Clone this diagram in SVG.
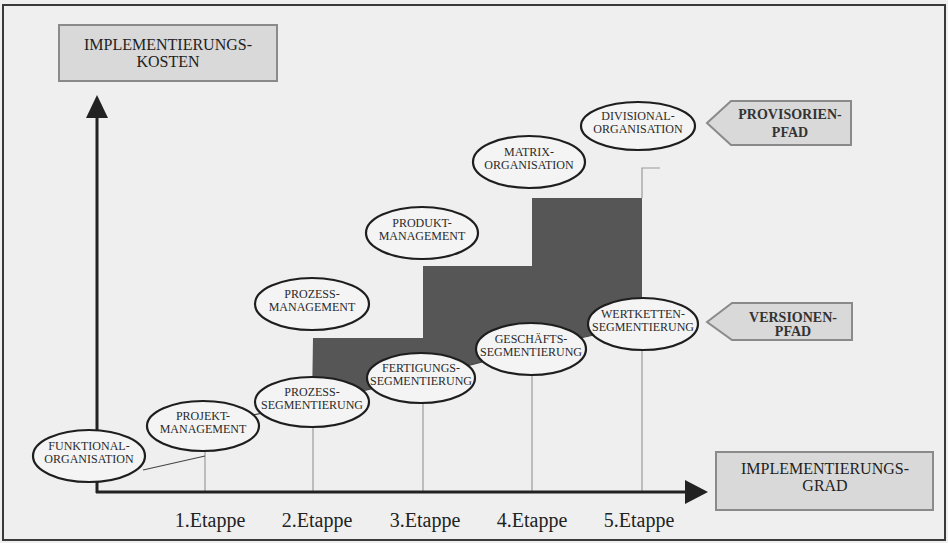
<svg xmlns="http://www.w3.org/2000/svg" width="948" height="543" viewBox="0 0 948 543">
<style>
.bg{fill:#efefef}
.frame{fill:none;stroke:#3a3a3a;stroke-width:2}
.box{fill:#d9d9d9;stroke:#8a8a8a;stroke-width:2}
.node ellipse{fill:#f4f4f4;stroke:#1e1e1e;stroke-width:2.2}
.nt{font-family:"Liberation Serif","Times New Roman",serif;font-size:12px;fill:#2a2a2a;text-anchor:middle}
.bt{font-family:"Liberation Serif","Times New Roman",serif;font-size:16px;fill:#222;text-anchor:middle}
.pt{font-family:"Liberation Serif","Times New Roman",serif;font-size:14px;font-weight:bold;fill:#333;text-anchor:middle}
.et{font-family:"Liberation Serif","Times New Roman",serif;font-size:20px;fill:#222;text-anchor:middle}
.grid{stroke:#9a9a9a;stroke-width:1.2;fill:none}
.link{stroke:#444;stroke-width:1.2;fill:none}
.axis{stroke:#222;stroke-width:3;fill:none}
.stair{fill:#565656}
</style>
<rect class="bg" x="0" y="0" width="948" height="543"/>
<rect class="frame" x="3" y="5" width="942" height="535"/>

<polygon class="stair" points="313,338 423,338 423,266 532,266 532,198 642,198 642,324 531,349 421,378 312,402"/>

<g id="connectors">
  <line class="grid" x1="205" y1="451" x2="205" y2="493"/>
  <line class="grid" x1="313" y1="427" x2="313" y2="493"/>
  <line class="grid" x1="423" y1="403" x2="423" y2="493"/>
  <line class="grid" x1="532" y1="375" x2="532" y2="493"/>
  <line class="grid" x1="642" y1="350" x2="642" y2="493"/>
  <polyline class="grid" points="660,168 642,168 642,198"/>
  <line class="link" x1="143" y1="470" x2="205" y2="456"/>
  <line class="link" x1="203" y1="426" x2="312" y2="402"/>
  <line class="link" x1="312" y1="402" x2="421" y2="378"/>
  <line class="link" x1="421" y1="378" x2="531" y2="349"/>
  <line class="link" x1="531" y1="349" x2="643" y2="324"/>
  <line class="axis" x1="97" y1="493" x2="97" y2="116"/>
  <polygon points="97,95 86,118 108,118" fill="#222"/>
  <line class="axis" x1="96" y1="492" x2="687" y2="492"/>
  <polygon points="708,492 685,480 685,504" fill="#222"/>
</g>

<g id="kosten">
  <rect class="box" x="59" y="25" width="218" height="56"/>
  <text class="bt" x="168" y="50">IMPLEMENTIERUNGS-</text>
  <text class="bt" x="168" y="67">KOSTEN</text>
</g>
<g id="grad">
  <rect class="box" x="716" y="452" width="217" height="58"/>
  <text class="bt" x="825" y="474">IMPLEMENTIERUNGS-</text>
  <text class="bt" x="825" y="491">GRAD</text>
</g>
<g id="provisorienpfad">
  <polygon class="box" points="707,123 731,101 851,101 851,145 731,145"/>
  <text class="pt" x="790" y="119">PROVISORIEN-</text>
  <text class="pt" x="790" y="137">PFAD</text>
</g>
<g id="versionenpfad">
  <polygon class="box" points="707,322 732,303 852,303 852,340 732,340"/>
  <text class="pt" x="793" y="322">VERSIONEN-</text>
  <text class="pt" x="793" y="336">PFAD</text>
</g>

<g id="funktional" class="node">
  <ellipse cx="89" cy="456" rx="56" ry="26"/>
  <text class="nt" x="89" y="450">FUNKTIONAL-</text>
  <text class="nt" x="89" y="463">ORGANISATION</text>
</g>
<g id="projekt" class="node">
  <ellipse cx="203" cy="426" rx="56" ry="25"/>
  <text class="nt" x="203" y="420">PROJEKT-</text>
  <text class="nt" x="203" y="433">MANAGEMENT</text>
</g>
<g id="prozess-seg" class="node">
  <ellipse cx="312" cy="402" rx="57" ry="25"/>
  <text class="nt" x="312" y="396">PROZESS-</text>
  <text class="nt" x="312" y="409">SEGMENTIERUNG</text>
</g>
<g id="fertigung" class="node">
  <ellipse cx="421" cy="378" rx="54" ry="25"/>
  <text class="nt" x="421" y="372">FERTIGUNGS-</text>
  <text class="nt" x="421" y="385">SEGMENTIERUNG</text>
</g>
<g id="geschaeft" class="node">
  <ellipse cx="531" cy="349" rx="55" ry="26"/>
  <text class="nt" x="531" y="343">GESCHÄFTS-</text>
  <text class="nt" x="531" y="356">SEGMENTIERUNG</text>
</g>
<g id="wertketten" class="node">
  <ellipse cx="643" cy="324" rx="55" ry="26"/>
  <text class="nt" x="643" y="318">WERTKETTEN-</text>
  <text class="nt" x="643" y="331">SEGMENTIERUNG</text>
</g>
<g id="prozess-mgmt" class="node">
  <ellipse cx="312" cy="304" rx="57" ry="26"/>
  <text class="nt" x="312" y="298">PROZESS-</text>
  <text class="nt" x="312" y="311">MANAGEMENT</text>
</g>
<g id="produkt" class="node">
  <ellipse cx="422" cy="233" rx="56" ry="26"/>
  <text class="nt" x="422" y="227">PRODUKT-</text>
  <text class="nt" x="422" y="240">MANAGEMENT</text>
</g>
<g id="matrix" class="node">
  <ellipse cx="529" cy="162" rx="56" ry="26"/>
  <text class="nt" x="529" y="156">MATRIX-</text>
  <text class="nt" x="529" y="169">ORGANISATION</text>
</g>
<g id="divisional" class="node">
  <ellipse cx="638" cy="126" rx="57" ry="24"/>
  <text class="nt" x="638" y="120">DIVISIONAL-</text>
  <text class="nt" x="638" y="133">ORGANISATION</text>
</g>

<g id="etappen">
  <text class="et" x="210" y="527">1.Etappe</text>
  <text class="et" x="317" y="527">2.Etappe</text>
  <text class="et" x="425" y="527">3.Etappe</text>
  <text class="et" x="532" y="527">4.Etappe</text>
  <text class="et" x="639" y="527">5.Etappe</text>
</g>
</svg>
